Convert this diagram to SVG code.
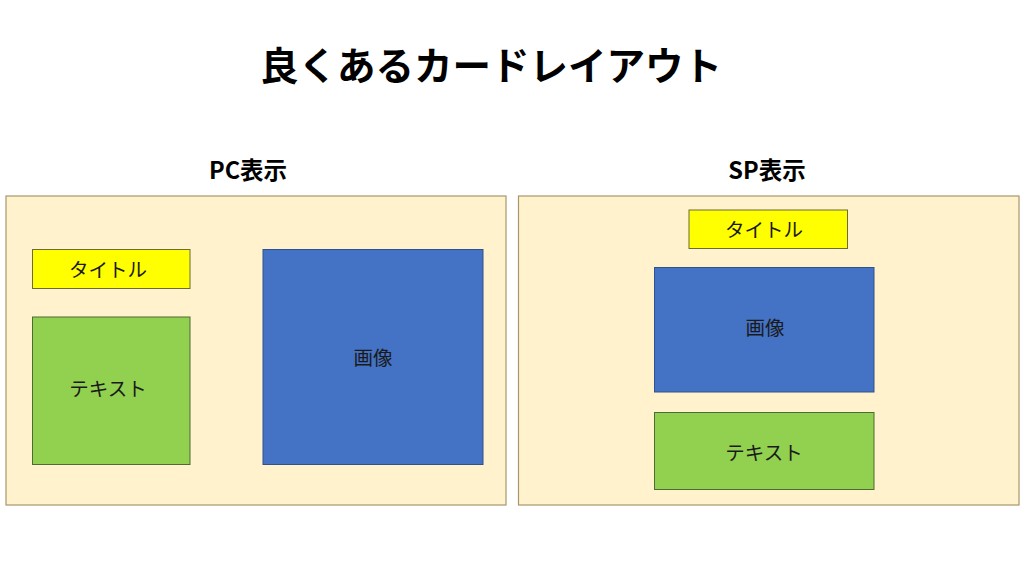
<svg xmlns="http://www.w3.org/2000/svg" width="1024" height="576" viewBox="0 0 1024 576">
<style>
text{font-family:"Noto Sans CJK JP","Liberation Sans",sans-serif;text-anchor:middle;dominant-baseline:central}
.h1{font-size:38.5px;font-weight:bold;fill:#000}
.h2{font-size:23.5px;font-weight:bold;fill:#000}
.lbl{font-size:19.5px;fill:#1a1a1a}
.card{fill:#fff2cc;stroke:#a8976a;stroke-width:1.2}
.title{fill:#ffff00;stroke:#6b6b3a;stroke-width:1}
.img{fill:#4472c4;stroke:#2f528f;stroke-width:1}
.txt{fill:#92d050;stroke:#4f6b35;stroke-width:1}
</style>
<rect width="1024" height="576" fill="#fff"/>
<text class="h1" x="491" y="63">良くあるカードレイアウト</text>
<text class="h2" x="248" y="169">PC表示</text>
<text class="h2" x="767" y="169">SP表示</text>
<g id="pc-card">
<rect class="card" x="6" y="196" width="500" height="309"/>
</g>
<g id="pc-title">
<rect class="title" x="32.5" y="249.5" width="157.5" height="39"/>
<text class="lbl" x="108" y="268">タイトル</text>
</g>
<g id="pc-text">
<rect class="txt" x="32.5" y="317" width="157.5" height="147.5"/>
<text class="lbl" x="108" y="387">テキスト</text>
</g>
<g id="pc-image">
<rect class="img" x="263" y="249.5" width="220" height="215"/>
<text class="lbl" x="373" y="356">画像</text>
</g>
<g id="sp-card">
<rect class="card" x="518.5" y="196" width="500.5" height="309"/>
</g>
<g id="sp-title">
<rect class="title" x="689" y="210" width="158.5" height="38.5"/>
<text class="lbl" x="764" y="228">タイトル</text>
</g>
<g id="sp-image">
<rect class="img" x="654.5" y="267.5" width="219.5" height="124.5"/>
<text class="lbl" x="765" y="326">画像</text>
</g>
<g id="sp-text">
<rect class="txt" x="654.5" y="412.5" width="219.5" height="77"/>
<text class="lbl" x="764" y="451">テキスト</text>
</g>
<g id="connectors"></g>
</svg>
